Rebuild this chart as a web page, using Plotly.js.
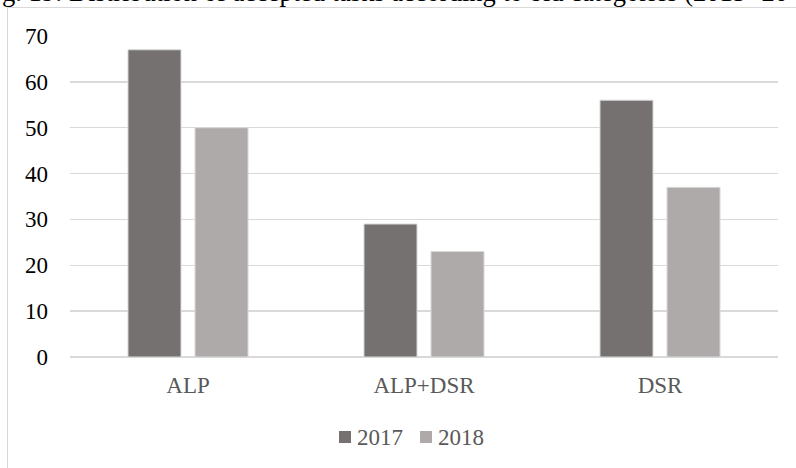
<!DOCTYPE html>
<html>
<head>
<meta charset="utf-8">
<script src="https://cdn.plot.ly/plotly-3.0.1.min.js"></script>
<style>html,body{margin:0;padding:0;background:#fff;}#chart{width:796px;height:468px;}</style>
</head>
<body>
<div id="chart"></div>
<script>
const categories = ["ALP", "ALP+DSR", "DSR"];
const values2017 = [67, 29, 56];
const values2018 = [50, 23, 37];
const seriesNames = ["2017", "2018"];
const seriesColors = ["#767171", "#aeaaaa"];
const titleText = "g. 19: Distribution of accepted tasks according to bid categories (2015- 20";

const W = 796, H = 468;
const L = 70, R = 18, T = 36, B = 111;
const pw = W - L - R, ph = H - T - B;
const px2x = p => (p - L) / pw;
const py2y = p => (H - B - p) / ph;
const FONT = "Liberation Serif, Times New Roman, serif";

const traces = seriesNames.map((n, i) => ({
  type: "bar", name: n, x: categories, y: i === 0 ? values2017 : values2018,
  marker: {color: seriesColors[i], line: {color: "#d9d9d9", width: 1}}, showlegend: false
}));

// manual legend (square + label) matching the reference spacing
const legendSq = [339, 420];
const shapes = [
  {type: "rect", xref: "paper", yref: "paper", x0: px2x(7.5), x1: px2x(W + 20), y0: py2y(7.5), y1: py2y(H + 20),
   line: {color: "#d9d9d9", width: 1}, fillcolor: "rgba(0,0,0,0)", layer: "below"}
];
const annotations = [
  {text: titleText, xref: "paper", yref: "paper", x: px2x(1), y: py2y(8), xanchor: "left", yanchor: "bottom",
   showarrow: false, font: {family: FONT, size: 26.5, color: "#000"}, borderpad: 0}
];
seriesNames.forEach((n, i) => {
  shapes.push({type: "rect", xref: "paper", yref: "paper", x0: px2x(legendSq[i]), x1: px2x(legendSq[i] + 12),
               y0: py2y(431), y1: py2y(443), line: {width: 0}, fillcolor: seriesColors[i]});
  annotations.push({text: n, xref: "paper", yref: "paper", x: px2x(legendSq[i] + 16), y: py2y(437),
                    xanchor: "left", yanchor: "middle", showarrow: false,
                    font: {family: FONT, size: 23, color: "#595959"}});
});

const layout = {
  width: W, height: H,
  margin: {l: L, r: R, t: T, b: B, pad: 0},
  paper_bgcolor: "#ffffff", plot_bgcolor: "#ffffff",
  font: {family: FONT, size: 23, color: "#000"},
  barmode: "group", bargap: 0.432, bargroupgap: 0.209,
  showlegend: false,
  xaxis: {showgrid: false, showline: false, zeroline: false, ticks: "",
          tickfont: {size: 23, color: "#595959"}, ticklabelstandoff: 12, fixedrange: true},
  yaxis: {range: [0, 70], dtick: 10, tick0: 0, showgrid: true, gridcolor: "#d9d9d9", gridwidth: 1.5,
          zeroline: true, zerolinecolor: "#d9d9d9", zerolinewidth: 1.5, showline: false, ticks: "",
          tickfont: {size: 23, color: "#000"}, ticklabelstandoff: 21, fixedrange: true},
  shapes: shapes,
  annotations: annotations
};

Plotly.newPlot("chart", traces, layout, {displayModeBar: false, staticPlot: true});
</script>
</body>
</html>
